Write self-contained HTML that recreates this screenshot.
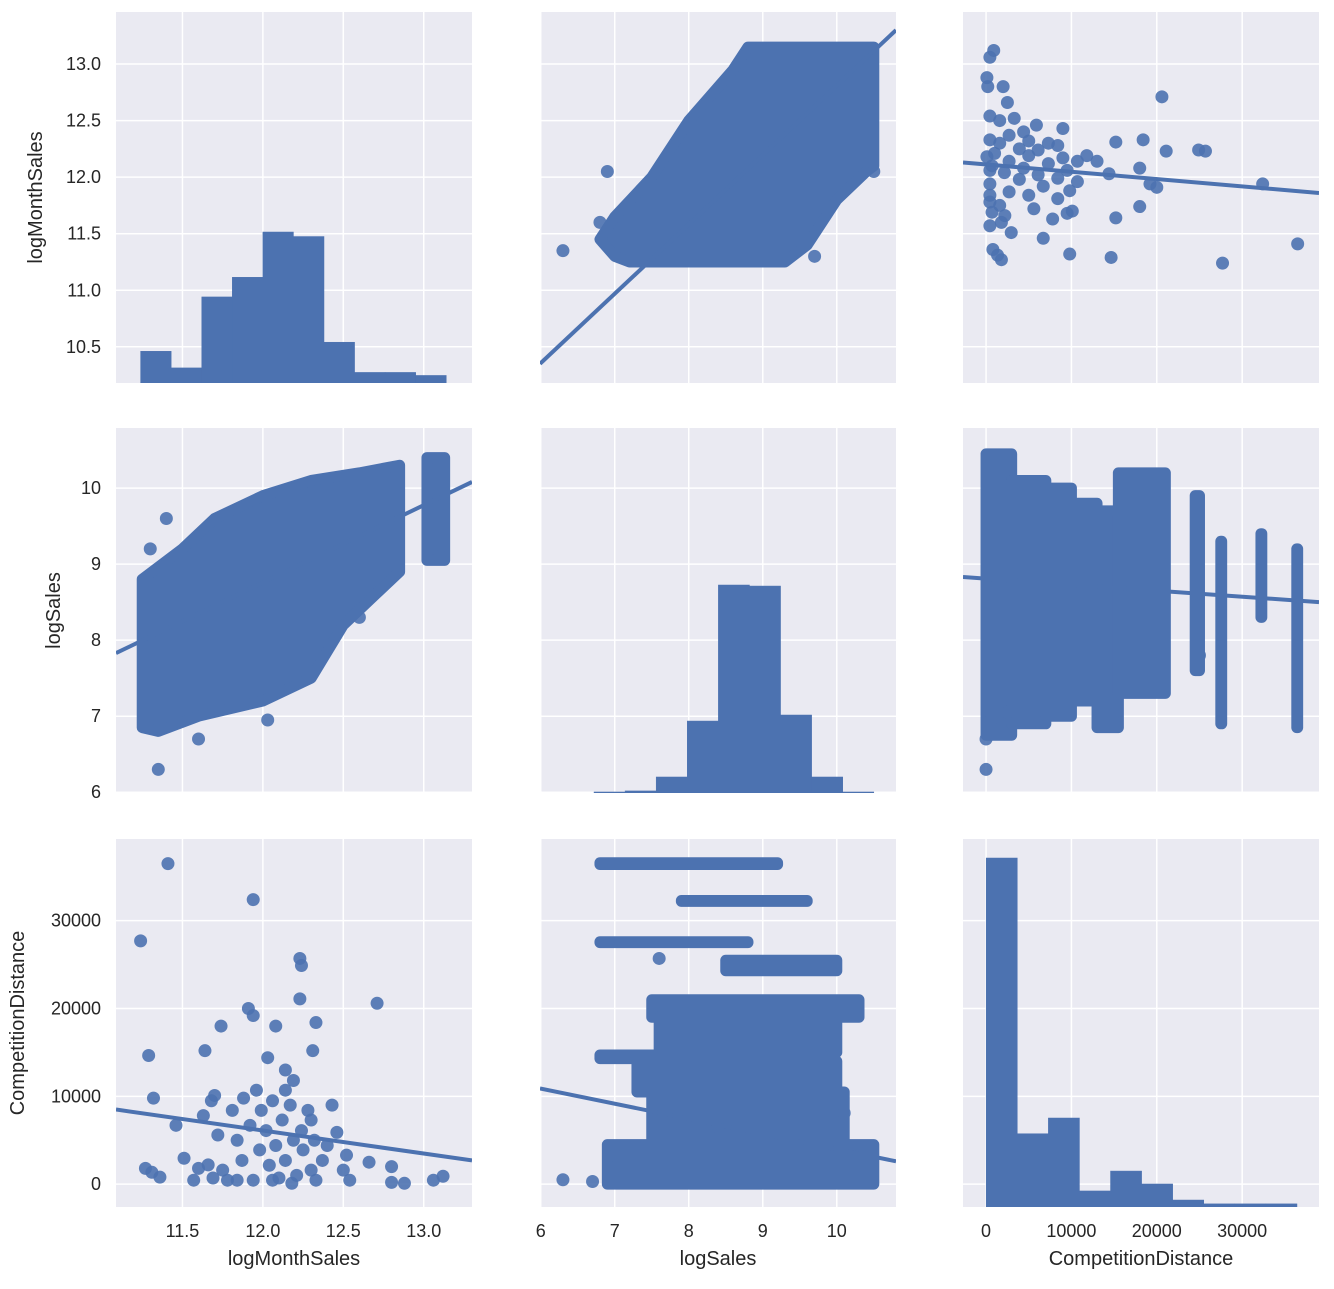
<!DOCTYPE html>
<html><head><meta charset="utf-8"><style>
body{margin:0;background:#fff;}
svg text{font-family:"Liberation Sans",Arial,sans-serif;fill:#262626;}
</style></head><body>
<svg id="c" width="1334" height="1284" xmlns="http://www.w3.org/2000/svg"></svg>
<script>
// ---------- data ----------
const varNames = ["logMonthSales","logSales","CompetitionDistance"];
const sparseMonth = [11.24,11.41,11.94,11.29,11.32,11.46,11.27,11.31,11.36,11.64,11.74,11.91,11.94,12.23,12.24,12.23,12.08,12.03,12.33,12.31,12.71,12.14,12.19,12.66,12.8,12.8,12.88,13.06,13.12,11.51,11.57,11.63,11.68,11.7,11.72,11.66,11.75,11.78,11.81,11.84,11.87,11.88,11.92,11.94,11.98,11.99,12.02,12.04,12.06,12.08,12.1,12.12,12.14,12.17,12.19,12.21,12.24,12.25,12.28,12.3,12.32,12.33,12.37,12.4,12.43,12.46,12.5,12.52,12.54,12.3,12.14,11.96,11.84,12.06,12.18,11.69,11.6];
const sparseDist = [27700,36500,32400,14650,9800,6700,1800,1350,800,15200,18000,20000,19200,25700,24900,21100,18000,14400,18400,15200,20600,13000,11800,2500,2000,200,100,450,900,2950,450,7800,9500,10100,5600,2200,1600,450,8400,5000,2700,9800,6700,450,3900,8400,6100,2150,9500,4400,700,7300,2700,9000,5000,1000,6100,3900,8400,1600,5000,450,2700,4400,9000,5900,1600,3300,450,7300,10700,10700,450,450,100,700,1800];
const histMonthEdges = [11.24,11.43,11.62,11.81,12.0,12.19,12.38,12.57,12.76,12.95,13.14];
const histMonthCounts = [21,10,57,70,100,97,27,7,7,5];
const histSalesEdges = [6.72,7.14,7.56,7.98,8.4,8.82,9.24,9.66,10.08,10.5];
const histSalesCounts = [0.5,1,7.7,34.6,100,99.5,37.5,7.7,0.5];
const histDistEdges = [20,3660,7300,10940,14580,18220,21860,25500,29140,32780,36420];
const histDistCounts = [100,21,25.5,4.6,10.3,6.6,2,0.9,0.9,0.9];
// dense cloud envelopes
const cloudSalesX = [7.0,7.2,9.3,9.6,10.0,10.4,10.5,10.5,8.8,8.6,8.0,7.5,7.0,6.8];
const cloudMonthY = [11.3,11.25,11.25,11.4,11.8,12.05,12.1,13.15,13.15,12.95,12.5,12.0,11.65,11.45];
const cloud2MonthX = [11.25,11.35,11.6,12.0,12.3,12.5,12.85,12.85,12.85,12.6,12.3,12.0,11.7,11.5,11.25];
const cloud2SalesY = [6.85,6.8,7.0,7.2,7.5,8.2,8.9,9.5,10.3,10.2,10.1,9.9,9.6,9.2,8.8];
const clusterMonthX = [13.02,13.13,13.13,13.02];
const clusterSalesY = [9.05,9.05,10.4,10.4];
const out12Sales = [6.3,6.9,9.7,10.5,6.8,7.2];
const out12Month = [11.35,12.05,11.3,12.05,11.6,11.75];
const out21Month = [11.35,11.6,12.03,11.4,11.3,12.6,13.1];
const out21Sales = [6.3,6.7,6.95,9.6,9.2,8.3,9.1];
const stripeDistA = [0,3000,7000,10000,13000,15500,24500,27500,32200,36400];
const stripeDistB = [3000,7000,10000,13000,15500,21000,25000,27600,32300,36500];
const stripeSalesLo = [6.75,6.9,7.0,7.2,6.85,7.3,7.6,6.9,8.3,6.85];
const stripeSalesHi = [10.45,10.1,10.0,9.8,9.7,10.2,9.9,9.3,9.4,9.2];
const hSalesLo = [6.8,7.9,6.8,8.5,7.5,7.6,6.8,7.3,7.5,6.9];
const hSalesHi = [9.2,9.6,8.8,10.0,10.3,10.0,9.8,10.0,10.1,10.5];
const hDistLo = [36400,32200,27500,24300,19000,15000,14300,10500,4500,0];
const hDistHi = [36600,32300,27600,25500,21000,19000,14700,14000,10500,4500];
const out32Sales = [6.3,6.7,7.0,7.6,10.1,8.4];
const out32Dist = [500,300,3300,25700,8100,6500];
const out23Dist = [0,0,600,2500,19000,25000];
const out23Sales = [6.3,6.7,6.95,7.05,7.4,7.8];
const reg12 = [[5.99,10.35],[10.8,13.3]];
const reg13 = [[-2700,12.13],[39000,11.86]];
const reg21 = [[11.087,7.83],[13.30,10.08]];
const reg23 = [[-2700,8.83],[39000,8.50]];
const reg31 = [[11.087,8500],[13.30,2700]];
const reg32 = [[5.99,10900],[10.8,2600]];
const ticksMonth = [10.5,11.0,11.5,12.0,12.5,13.0];
const ticksMonthLbl = ["10.5","11.0","11.5","12.0","12.5","13.0"];
const ticksSales = [6,7,8,9,10];
const ticksDist = [0,10000,20000,30000];

// ---------- layout ----------
const NS="http://www.w3.org/2000/svg";
const svg=document.getElementById('c');
const colX=[[116,472],[540,896],[963,1319]];
const rowY=[[12,383],[428,793],[839,1207]];
const dom=[[11.087,13.30],[5.99,10.80],[-2700,39000]];
const ydom=[[10.18,13.46],[5.99,10.79],[-2600,39300]];
function sx(c,v){const[a,b]=dom[c],[p,q]=colX[c];return p+(v-a)/(b-a)*(q-p);}
function sy(r,v){const[a,b]=ydom[r],[p,q]=rowY[r];return q-(v-a)/(b-a)*(q-p);}
function el(t,attrs,parent){const e=document.createElementNS(NS,t);for(const k in attrs)e.setAttribute(k,attrs[k]);(parent||svg).appendChild(e);return e;}
const BLUE="#4c72b0";
const xt=[ticksMonth,ticksSales,ticksDist];
const xtl=[ticksMonthLbl,ticksSales.map(String),ticksDist.map(String)];
const yt=xt, ytl=xtl;

const panels=[];
for(let r=0;r<3;r++)for(let c=0;c<3;c++){
  const g=el('g',{});
  
  
  const x0=colX[c][0],x1=colX[c][1],y0=rowY[r][0],y1=rowY[r][1];
  el('rect',{x:x0,y:y0,width:x1-x0,height:y1-y0,fill:'#eaeaf2'},g);
  const cp=el('clipPath',{id:'cp'+r+c},g);
  el('rect',{x:x0,y:y0,width:x1-x0,height:y1-y0},cp);
  xt[c].forEach(v=>{const x=sx(c,v);if(x>=x0&&x<=x1)el('line',{x1:x,x2:x,y1:y0,y2:y1,stroke:'#fff','stroke-width':1.5},g);});
  yt[r].forEach(v=>{const y=sy(r,v);if(y>=y0&&y<=y1)el('line',{x1:x0,x2:x1,y1:y,y2:y,stroke:'#fff','stroke-width':1.5},g);});
  const inner=el('g',{'clip-path':'url(#cp'+r+c+')'},g);
  panels.push(inner);
}
function P(r,c){return panels[r*3+c];}
function dots(r,c,xs,ys,name){xs.forEach((v,i)=>{const d=el('circle',{cx:sx(c,v),cy:sy(r,ys[i]),r:6.5,fill:BLUE,'fill-opacity':0.9},P(r,c));

});}
function line(r,c,pts,name){const l=el('line',{x1:sx(c,pts[0][0]),y1:sy(r,pts[0][1]),x2:sx(c,pts[1][0]),y2:sy(r,pts[1][1]),stroke:BLUE,'stroke-width':4},P(r,c));

}
function poly(r,c,xs,ys,name){const pts=xs.map((v,i)=>sx(c,v)+','+sy(r,ys[i])).join(' ');const p=el('polygon',{points:pts,fill:BLUE,stroke:BLUE,'stroke-width':11,'stroke-linejoin':'round'},P(r,c));

}
function hist(r,c,edges,counts,maxPx,name){const base=rowY[r][1];counts.forEach((v,i)=>{const x=sx(c,edges[i]),w=sx(c,edges[i+1])-x,h=v/100*maxPx;
const b=el('rect',{x:x,y:base-h,width:w,height:h,fill:BLUE,stroke:BLUE,'stroke-width':0.5},P(r,c));

});}

hist(0,0,histMonthEdges,histMonthCounts,151,'hist-logMonthSales');
hist(1,1,histSalesEdges,histSalesCounts,208,'hist-logSales');
hist(2,2,histDistEdges,histDistCounts,349,'hist-CompetitionDistance');
poly(0,1,cloudSalesX,cloudMonthY,'cloud-logSales-logMonthSales');
dots(0,1,out12Sales,out12Month,'point');
line(0,1,reg12,'regression-line');
dots(0,2,sparseDist,sparseMonth,'point');
line(0,2,reg13,'regression-line');
poly(1,0,cloud2MonthX,cloud2SalesY,'cloud-logMonthSales-logSales');
poly(1,0,clusterMonthX,clusterSalesY,'cluster-high-month');
dots(1,0,out21Month,out21Sales,'point');
line(1,0,reg21,'regression-line');
stripeDistA.forEach((a,i)=>{poly(1,2,[a,stripeDistB[i],stripeDistB[i],a],[stripeSalesLo[i],stripeSalesLo[i],stripeSalesHi[i],stripeSalesHi[i]],'stripe-'+i);});
dots(1,2,out23Dist,out23Sales,'point');
line(1,2,reg23,'regression-line');
dots(2,0,sparseMonth,sparseDist,'point');
line(2,0,reg31,'regression-line');
hSalesLo.forEach((a,i)=>{poly(2,1,[a,hSalesHi[i],hSalesHi[i],a],[hDistLo[i],hDistLo[i],hDistHi[i],hDistHi[i]],'stripe-'+i);});
dots(2,1,out32Sales,out32Dist,'point');
line(2,1,reg32,'regression-line');

for(let r=0;r<3;r++){
  yt[r].forEach((v,i)=>{const y=sy(r,v);if(y<rowY[r][0]-2||y>rowY[r][1]+3)return;
    const t=el('text',{x:101,y:y+6,'text-anchor':'end','font-size':18});t.textContent=ytl[r][i];
    
    });
}
const ylx=[42,60,24];
for(let r=0;r<3;r++){const cy=(rowY[r][0]+rowY[r][1])/2;
  const t=el('text',{x:ylx[r],y:cy,'text-anchor':'middle','font-size':20,transform:'rotate(-90 '+ylx[r]+' '+cy+')'});t.textContent=varNames[r];
  
  }
for(let c=0;c<3;c++){
  xt[c].forEach((v,i)=>{const x=sx(c,v);if(x<colX[c][0]-3||x>colX[c][1])return;
    const t=el('text',{x:x,y:1237,'text-anchor':'middle','font-size':18});t.textContent=xtl[c][i];
    
    });
  const t=el('text',{x:(colX[c][0]+colX[c][1])/2,y:1265,'text-anchor':'middle','font-size':20});t.textContent=varNames[c];
  
  
}
</script>
</body></html>
